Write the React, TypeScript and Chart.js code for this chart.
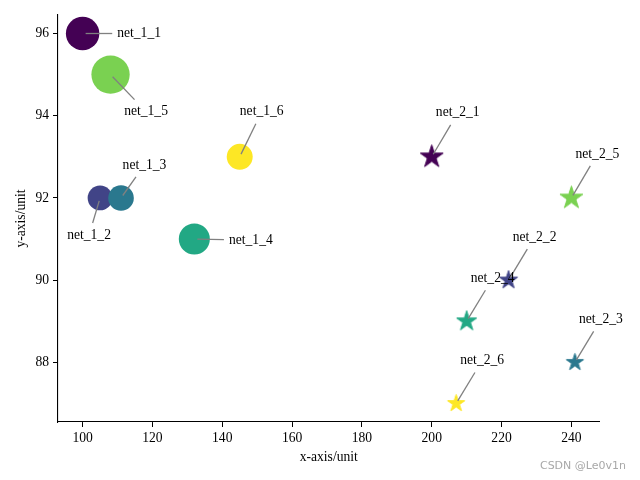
import React, { useEffect, useRef } from 'react';
import { Chart, registerables } from 'chart.js';

Chart.register(...registerables);

// ---- data ----
const names1 = ['net_1_1', 'net_1_2', 'net_1_3', 'net_1_4', 'net_1_5', 'net_1_6'];
const xs1 = [100, 105, 111, 132, 108, 145];
const ys1 = [96, 92, 92, 91, 95, 93];
const sizes1 = [580, 320, 340, 500, 760, 350]; // marker area (pt^2)

const names2 = ['net_2_1', 'net_2_2', 'net_2_3', 'net_2_4', 'net_2_5', 'net_2_6'];
const xs2 = [200, 222, 241, 210, 240, 207];
const ys2 = [93, 90, 88, 89, 92, 87];
const sizes2 = [300, 190, 170, 230, 300, 170]; // marker area (pt^2)

const xTicks = [100, 120, 140, 160, 180, 200, 220, 240];
const yTicks = [88, 90, 92, 94, 96];

const viridis6 = ['#440154', '#414487', '#2a788e', '#22a884', '#7ad151', '#fde725'];

// annotation text offsets (pixels, text centre relative to point)
const labelOffsets1 = [[56.5, 0], [-11, 37], [23.5, -33], [56.5, 1], [35.5, 37], [22, -45]];
const labelOffsets2 = [[26, -44], [26, -43], [26, -43], [26, -43], [26, -44], [26, -43]];

const FONT = '"Liberation Serif", "Times New Roman", serif';
const FSIZE = 13.6;

const circleRadius = (s: number) => (Math.sqrt(s) / 2) * (100 / 72);
const starRadius = (s: number) => (Math.sqrt(s) / 2) * (100 / 72);

function makeStar(color: string, r: number): HTMLCanvasElement {
  const size = Math.ceil(2 * r + 4);
  const c = document.createElement('canvas');
  c.width = size;
  c.height = size;
  const ctx = c.getContext('2d')!;
  const cx = size / 2;
  const cy = size / 2;
  const inner = r * 0.381966;
  ctx.beginPath();
  for (let i = 0; i < 10; i++) {
    const rad = i % 2 === 0 ? r : inner;
    const a = -Math.PI / 2 + (i * Math.PI) / 5;
    const px = cx + rad * Math.cos(a);
    const py = cy + rad * Math.sin(a);
    if (i === 0) ctx.moveTo(px, py);
    else ctx.lineTo(px, py);
  }
  ctx.closePath();
  ctx.fillStyle = color;
  ctx.fill();
  ctx.strokeStyle = color;
  ctx.lineWidth = 1;
  ctx.stroke();
  return c;
}

const annotatePlugin = {
  id: 'annotateNets',
  afterDatasetsDraw(chart: any) {
    const ctx = chart.ctx;
    const groups = [
      { names: names1, offs: labelOffsets1, ds: 0 },
      { names: names2, offs: labelOffsets2, ds: 1 },
    ];
    ctx.save();
    ctx.font = `${FSIZE}px ${FONT}`;
    for (const g of groups) {
      const meta = chart.getDatasetMeta(g.ds);
      meta.data.forEach((el: any, i: number) => {
        const px = el.x;
        const py = el.y;
        const tx = px + g.offs[i][0];
        const ty = py + g.offs[i][1];
        const w = ctx.measureText(g.names[i]).width;
        const hw = w / 2 + 5;
        const hh = 12;
        const vx = tx - px;
        const vy = ty - py;
        const L = Math.hypot(vx, vy);
        const s = Math.min(vx !== 0 ? hw / Math.abs(vx) : Infinity, vy !== 0 ? hh / Math.abs(vy) : Infinity);
        if (s < 1) {
          const ex = tx - s * vx;
          const ey = ty - s * vy;
          const sx = px + (3 / L) * vx;
          const sy = py + (3 / L) * vy;
          ctx.beginPath();
          ctx.moveTo(sx, sy);
          ctx.lineTo(ex, ey);
          ctx.strokeStyle = '#808080';
          ctx.lineWidth = 1.3;
          ctx.stroke();
        }
        ctx.fillStyle = '#000';
        ctx.textAlign = 'center';
        ctx.textBaseline = 'middle';
        ctx.fillText(g.names[i], tx, ty);
      });
    }
    // watermark
    ctx.font = '11px "DejaVu Sans", sans-serif';
    ctx.fillStyle = '#a8a8a8';
    ctx.textAlign = 'right';
    ctx.textBaseline = 'middle';
    ctx.fillText('CSDN @Le0v1n', 626, 466);
    ctx.restore();
  },
};

export default function App() {
  const ref = useRef<HTMLCanvasElement | null>(null);
  useEffect(() => {
    if (!ref.current) return;
    const stars = xs2.map((_, i) => makeStar(viridis6[i], starRadius(sizes2[i])));
    const axisCommon = (title: string, ticks: number[], titlePad: any, tickPad: number, isX: boolean) => ({
      type: 'linear' as const,
      afterBuildTicks: (s: any) => {
        s.ticks = ticks.map((v) => ({ value: v }));
      },
      afterFit: (s: any) => {
        if (isX) s.height = 58;
        else s.width = 58;
        s.paddingTop = 0;
        s.paddingBottom = 0;
        s.paddingLeft = 0;
        s.paddingRight = 0;
      },
      grid: {
        display: true,
        drawOnChartArea: false,
        drawTicks: true,
        tickLength: 5,
        color: '#000',
        tickColor: '#000',
        tickWidth: 1,
      },
      border: { display: true, color: '#000', width: 1.1 },
      ticks: {
        color: '#000',
        font: { family: FONT, size: FSIZE },
        padding: tickPad,
        maxRotation: 0,
        autoSkip: false,
      },
      title: {
        display: true,
        text: title,
        color: '#000',
        font: { family: FONT, size: FSIZE },
        padding: titlePad,
      },
    });
    const chart = new Chart(ref.current, {
      type: 'scatter',
      data: {
        datasets: [
          {
            label: 'net_1',
            data: xs1.map((x, i) => ({ x, y: ys1[i] })),
            pointRadius: sizes1.map(circleRadius),
            pointBackgroundColor: viridis6,
            pointBorderWidth: 0,
            pointStyle: 'circle',
          },
          {
            label: 'net_2',
            data: xs2.map((x, i) => ({ x, y: ys2[i] })),
            pointRadius: sizes2.map(starRadius),
            pointBackgroundColor: viridis6,
            pointBorderWidth: 0,
            pointStyle: stars as any,
          },
        ],
      },
      options: {
        animation: false,
        responsive: false,
        layout: { autoPadding: false, padding: { top: 15, right: 40.5, left: 0, bottom: 0 } },
        plugins: { legend: { display: false }, tooltip: { enabled: false } },
        scales: {
          x: { ...axisCommon('x-axis/unit', xTicks, { top: 0, bottom: 14.6 }, 3.5, true), min: 92.95, max: 248.05 },
          y: { ...axisCommon('y-axis/unit', yTicks, { top: 13.6, bottom: 0 }, 4, false), min: 86.55, max: 96.45 },
        },
      },
      plugins: [annotatePlugin],
    });
    return () => chart.destroy();
  }, []);
  return (
    <div style={{ position: 'fixed', left: 0, top: 0, width: 640, height: 480, background: '#fff' }}>
      <canvas ref={ref} width={640} height={480} style={{ width: 640, height: 480, display: 'block' }} />
    </div>
  );
}
